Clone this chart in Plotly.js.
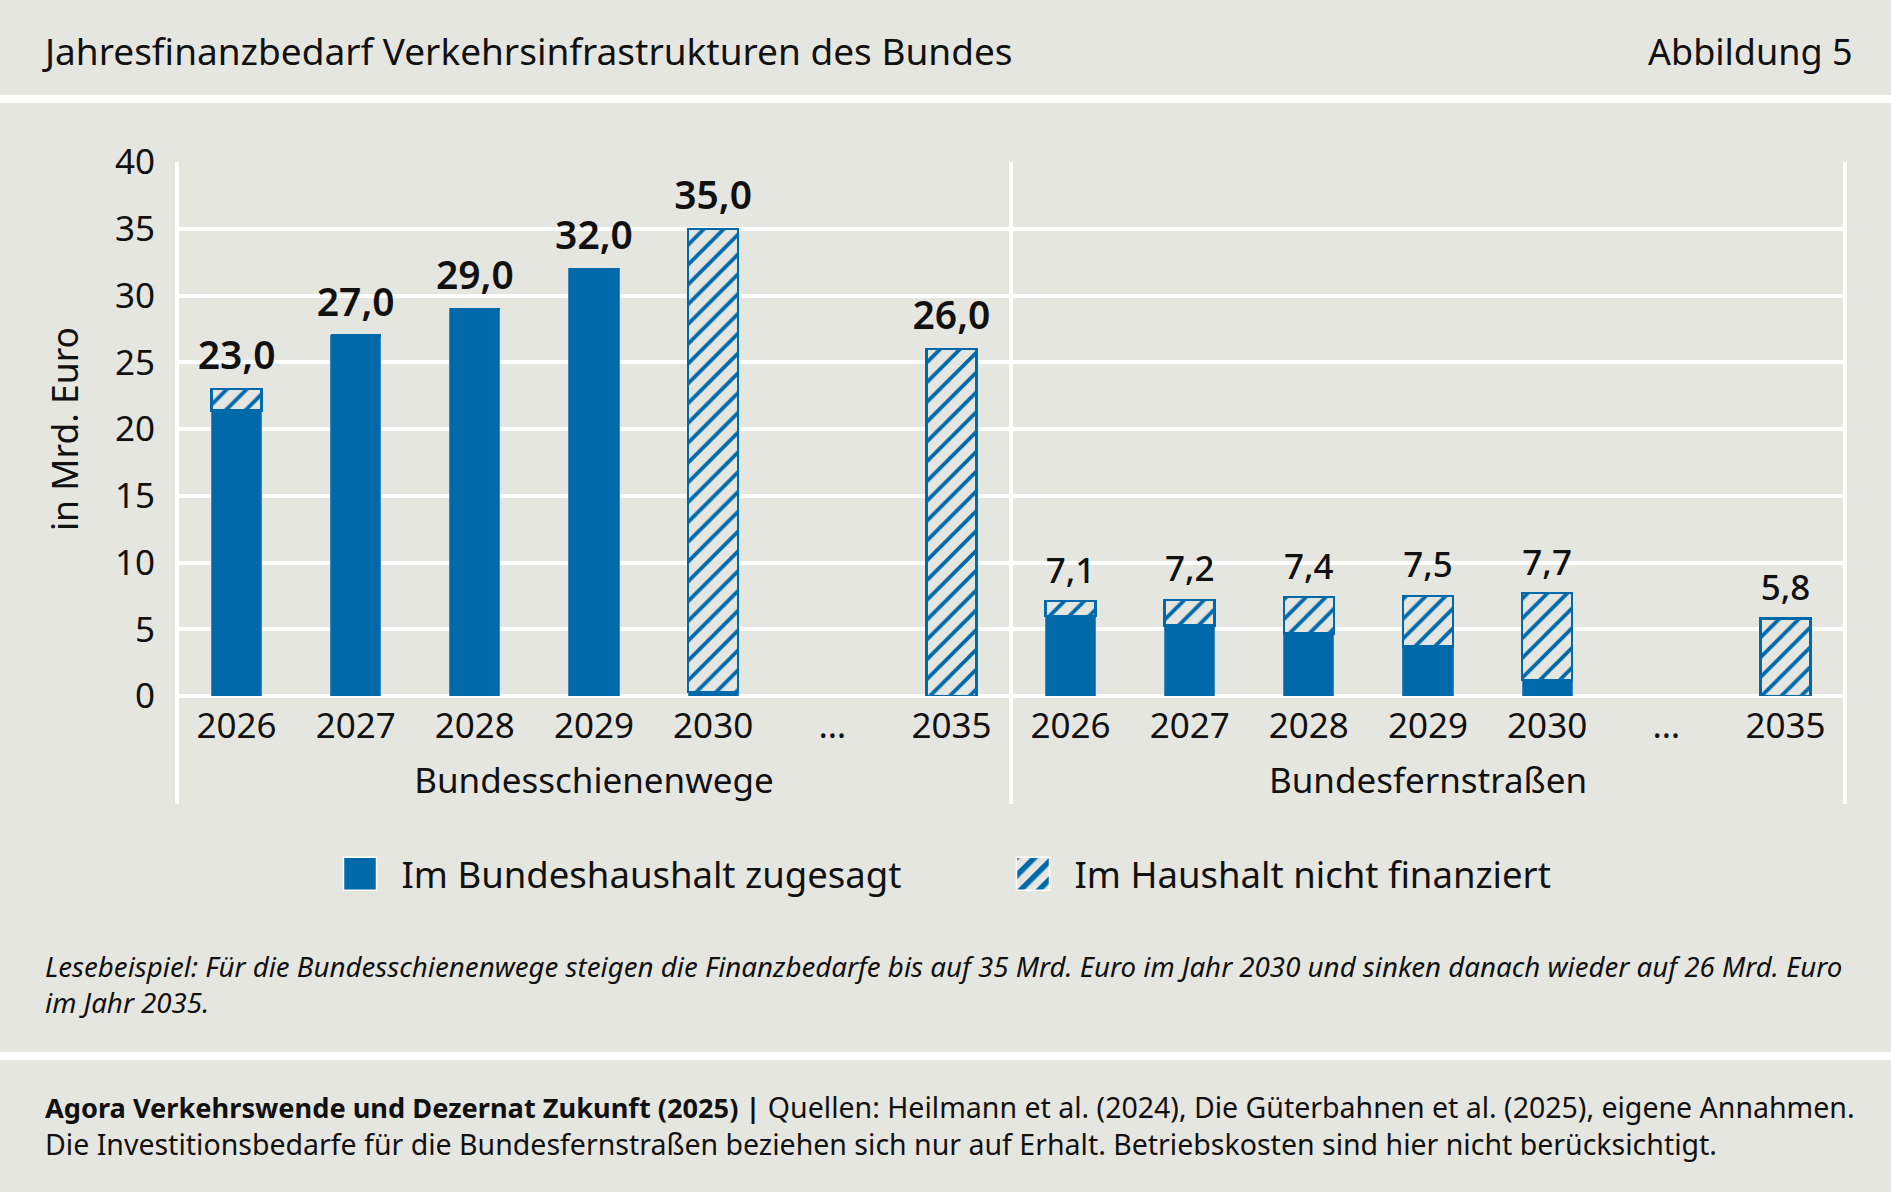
<!DOCTYPE html>
<html>
<head>
<meta charset="utf-8">
<script src="https://cdn.plot.ly/plotly-3.0.1.min.js"></script>
<style>
  html, body { margin: 0; padding: 0; background: #e6e6e1; }
  #chart { width: 1891px; height: 1192px; }
</style>
</head>
<body>
<div id="chart"></div>
<script>
// ---- Data ----
const groups = ['Bundesschienenwege', 'Bundesfernstraßen'];
const years = ['2026', '2027', '2028', '2029', '2030', '…', '2035'];
// Gesamtbedarf (Mrd. Euro)
const railTotal = [23.0, 27.0, 29.0, 32.0, 35.0, null, 26.0];
const roadTotal = [7.1, 7.2, 7.4, 7.5, 7.7, null, 5.8];
// davon im Bundeshaushalt zugesagt
const railFunded = [21.4, 27.0, 29.0, 32.0, 0.3, null, 0.0];
const roadFunded = [6.0, 5.3, 4.7, 3.7, 1.2, null, 0.0];
const seriesNames = ['Im Bundeshaushalt zugesagt', 'Im Haushalt nicht finanziert'];

// ---- Build traces ----
const xGroup = [], xYear = [], total = [], funded = [], unfunded = [];
[[railTotal, railFunded], [roadTotal, roadFunded]].forEach(function (pair, g) {
  years.forEach(function (yr, i) {
    xGroup.push(groups[g]);
    xYear.push(yr);
    const t = pair[0][i], f = pair[1][i];
    total.push(t);
    funded.push(f);
    unfunded.push(t === null ? null : Math.round((t - f) * 10) / 10);
  });
});
const xCats = [xGroup, xYear];
function fmt(v) { return v === null ? '' : v.toFixed(1).replace('.', ','); }

const BLUE = '#0069aa';
const BG = '#e6e6e1';
const FONT = 'Noto Sans, Open Sans, sans-serif';
const TXT = '#111111';

function labelTrace(g, tot, size, weight) {
  return {
    type: 'scatter', mode: 'markers+text',
    x: [years.map(function () { return groups[g]; }), years.slice()],
    y: tot, text: tot.map(fmt),
    marker: { size: 14, color: 'rgba(0,0,0,0)' },
    textposition: 'top center', showlegend: false, cliponaxis: false,
    textfont: { family: FONT, size: size, color: TXT, weight: weight },
    hoverinfo: 'skip'
  };
}

const traces = [
  {
    type: 'bar', name: seriesNames[0], x: xCats, y: funded,
    marker: { color: BLUE, line: { color: '#3f86bf', width: 1 } },
    hoverinfo: 'skip'
  },
  {
    type: 'bar', name: seriesNames[1], x: xCats, y: unfunded,
    marker: {
      color: BG,
      line: { color: BLUE, width: 2.5 },
      pattern: { shape: '/', fgcolor: BLUE, bgcolor: BG, size: 14, solidity: 0.27, fillmode: 'replace' }
    },
    hoverinfo: 'skip'
  },
  labelTrace(0, railTotal, 39, 600),
  labelTrace(1, roadTotal, 35, 500)
];

// ---- Layout geometry (pixels) ----
const W = 1891, H = 1192;
const M = { l: 177, r: 46, t: 162, b: 496, autoexpand: false };
const PW = W - M.l - M.r, PH = H - M.t - M.b;
function px2x(px) { return (px - M.l) / PW; }
function px2y(py) { return (H - M.b - py) / PH; }

const shapes = [
  // white separators
  { type: 'rect', xref: 'paper', yref: 'paper', x0: px2x(0), x1: px2x(W), y0: px2y(95), y1: px2y(103), fillcolor: '#ffffff', line: { width: 0 }, layer: 'below' },
  { type: 'rect', xref: 'paper', yref: 'paper', x0: px2x(0), x1: px2x(W), y0: px2y(1052), y1: px2y(1060), fillcolor: '#ffffff', line: { width: 0 }, layer: 'below' }
];
[0, 0.5, 1].forEach(function (xp) {
  shapes.push({ type: 'line', xref: 'paper', yref: 'paper', x0: xp, x1: xp, y0: px2y(804), y1: 1, line: { color: '#ffffff', width: 4 }, layer: 'below' });
});

const layout = {
  width: W, height: H,
  margin: M,
  paper_bgcolor: BG, plot_bgcolor: BG,
  font: { family: FONT, color: TXT, size: 35 },
  barmode: 'stack',
  bargap: 0.58,
  showlegend: true,
  title: {
    text: 'Jahresfinanzbedarf Verkehrsinfrastrukturen des Bundes',
    font: { family: FONT, size: 37, color: TXT },
    xref: 'container', yref: 'container', x: 45 / W, xanchor: 'left', y: 1 - 52 / H, yanchor: 'middle'
  },
  xaxis: {
    type: 'multicategory',
    range: [-0.5, 13.5],
    showgrid: false, zeroline: false, showline: false,
    showdividers: false,
    ticks: '', tickangle: 0, automargin: false,
    tickfont: { family: FONT, size: 35, color: TXT },
    ticklabelstandoff: 6
  },
  yaxis: {
    range: [0, 40], dtick: 5, tick0: 0, automargin: false,
    showgrid: true, gridcolor: '#ffffff', gridwidth: 4,
    zeroline: true, zerolinecolor: '#ffffff', zerolinewidth: 4,
    showline: false, ticks: '',
    ticklabelstandoff: 21,
    tickfont: { family: FONT, size: 35, color: TXT },
    title: { text: 'in Mrd. Euro', font: { family: FONT, size: 35.5, color: TXT }, standoff: 25 }
  },
  legend: {
    orientation: 'h', xref: 'container', x: (945.5 + 46) / W, xanchor: 'center',
    yref: 'paper', y: px2y(874), yanchor: 'middle',
    font: { family: FONT, size: 36.5, color: TXT },
    bgcolor: 'rgba(0,0,0,0)', itemwidth: 73, entrywidth: 585,
    traceorder: 'normal'
  },
  shapes: shapes,
  annotations: [
    {
      text: 'Abbildung 5', xref: 'paper', yref: 'paper', x: px2x(1855), y: px2y(52),
      xanchor: 'right', yanchor: 'middle', showarrow: false,
      font: { family: FONT, size: 36, color: TXT }
    },
    {
      text: 'Lesebeispiel: Für die Bundesschienenwege steigen die Finanzbedarfe bis auf 35 Mrd. Euro im Jahr 2030 und sinken danach wieder auf 26 Mrd. Euro<br>im Jahr 2035.',
      xref: 'paper', yref: 'paper', x: px2x(43), y: px2y(984), xanchor: 'left', yanchor: 'middle',
      align: 'left', showarrow: false,
      font: { family: FONT, size: 27.7, color: TXT, style: 'italic' }
    },
    {
      text: '<b><span style="font-size:27.2px">Agora Verkehrswende und Dezernat Zukunft (2025) |</span></b> Quellen: Heilmann et al. (2024), Die Güterbahnen et al. (2025), eigene Annahmen.<br>Die Investitionsbedarfe für die Bundesfernstraßen beziehen sich nur auf Erhalt. Betriebskosten sind hier nicht berücksichtigt.',
      xref: 'paper', yref: 'paper', x: px2x(43), y: px2y(1125), xanchor: 'left', yanchor: 'middle',
      align: 'left', showarrow: false,
      font: { family: FONT, size: 28.5, color: TXT }
    }
  ]
};

Plotly.newPlot('chart', traces, layout, { displayModeBar: false, staticPlot: true }).then(function (gd) {
  const NS = 'http://www.w3.org/2000/svg';
  const legendSvg = gd.querySelector('.legend') ? gd.querySelector('.legend').ownerSVGElement : null;
  // coarse hatch for the legend swatch
  let patId = null;
  if (legendSvg) {
    let defs = legendSvg.querySelector('defs');
    if (!defs) { defs = document.createElementNS(NS, 'defs'); legendSvg.insertBefore(defs, legendSvg.firstChild); }
    const pat = document.createElementNS(NS, 'pattern');
    patId = 'legendHatchCoarse';
    pat.setAttribute('id', patId);
    pat.setAttribute('patternUnits', 'userSpaceOnUse');
    pat.setAttribute('x', '0'); pat.setAttribute('y', '0');
    pat.setAttribute('width', '13');
    pat.setAttribute('height', '13');
    pat.setAttribute('patternTransform', 'rotate(45)');
    const bgRect = document.createElementNS(NS, 'rect');
    bgRect.setAttribute('width', '13'); bgRect.setAttribute('height', '13'); bgRect.setAttribute('fill', BG);
    const stripe = document.createElementNS(NS, 'rect');
    stripe.setAttribute('width', '5.5'); stripe.setAttribute('height', '13'); stripe.setAttribute('fill', BLUE);
    pat.appendChild(bgRect); pat.appendChild(stripe);
    defs.appendChild(pat);
  }
  // larger legend swatches with a white border
  gd.querySelectorAll('.legend .traces').forEach(function (tr, idx) {
    tr.querySelectorAll('.legendpoints path').forEach(function (p) {
      p.setAttribute('d', 'M16.5,16.5H-16.5V-16.5H16.5Z');
      p.style.stroke = '#ffffff';
      p.style.strokeWidth = '1.5px';
      if (idx === 1 && patId) {
        p.style.setProperty('fill', 'url(#' + patId + ')', 'important');
        p.setAttribute('fill', 'url(#' + patId + ')');
      }
    });
  });
  // move the group labels (second level of the category axis) a bit lower
  gd.querySelectorAll('g.xtick2').forEach(function (g) {
    const t = g.getAttribute('transform') || '';
    g.setAttribute('transform', 'translate(0,12) ' + t);
  });
});
</script>
</body>
</html>
